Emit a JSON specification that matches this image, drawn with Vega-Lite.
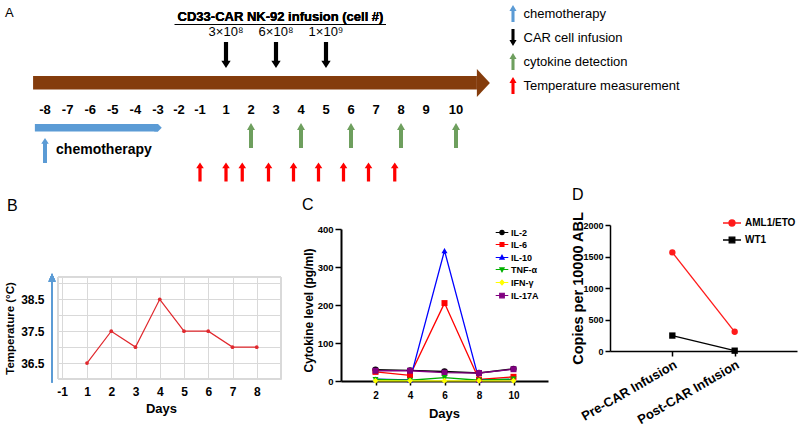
{
"$schema": "https://vega.github.io/schema/vega-lite/v6.json",
"width": 800, "height": 426,
"autosize": {"type": "none"},
"padding": 0,
"background": "white",
"config": {"font": "Liberation Sans", "view": {"stroke": null},
  "axis": {"labelFont": "Liberation Sans", "titleFont": "Liberation Sans", "labelColor": "#000", "titleColor": "#000", "labelFontWeight": "bold", "titleFontWeight": "bold", "labelOverlap": false, "labelFlush": false},
  "legend": {"labelFont": "Liberation Sans", "labelColor": "#000"}},
"datasets": {
  "timeline": [{"start": -8.53, "end": 10.85}],
  "chemo": [{"event": "chemotherapy", "start": -8.45, "end": -3.0, "day": -8}],
  "infusions": [
    {"event": "CAR cell infusion", "day": 1, "dose": "3×10⁸"},
    {"event": "CAR cell infusion", "day": 3, "dose": "6×10⁸"},
    {"event": "CAR cell infusion", "day": 5, "dose": "1×10⁹"}],
  "days": [{"day": -8}, {"day": -7}, {"day": -6}, {"day": -5}, {"day": -4}, {"day": -3}, {"day": -2}, {"day": -1},
    {"day": 1}, {"day": 2}, {"day": 3}, {"day": 4}, {"day": 5}, {"day": 6}, {"day": 7}, {"day": 8}, {"day": 9}, {"day": 10}],
  "cytokineDays": [
    {"event": "cytokine detection", "day": 2}, {"event": "cytokine detection", "day": 4},
    {"event": "cytokine detection", "day": 6}, {"event": "cytokine detection", "day": 8},
    {"event": "cytokine detection", "day": 10}],
  "tempMeasure": [
    {"event": "Temperature measurement", "day": -1}, {"event": "Temperature measurement", "day": 1},
    {"event": "Temperature measurement", "day": 1.65}, {"event": "Temperature measurement", "day": 2.7},
    {"event": "Temperature measurement", "day": 3.7}, {"event": "Temperature measurement", "day": 4.7},
    {"event": "Temperature measurement", "day": 5.7}, {"event": "Temperature measurement", "day": 6.7},
    {"event": "Temperature measurement", "day": 7.75}],
  "temperature": [
    {"day": 1, "temp": 36.5}, {"day": 2, "temp": 37.5}, {"day": 3, "temp": 37.0}, {"day": 4, "temp": 38.5},
    {"day": 5, "temp": 37.5}, {"day": 6, "temp": 37.5}, {"day": 7, "temp": 37.0}, {"day": 8, "temp": 37.0}],
  "cytokines": [
    {"day": 2, "cytokine": "IL-2", "value": 30}, {"day": 4, "cytokine": "IL-2", "value": 28}, {"day": 6, "cytokine": "IL-2", "value": 25}, {"day": 8, "cytokine": "IL-2", "value": 21}, {"day": 10, "cytokine": "IL-2", "value": 32},
    {"day": 2, "cytokine": "IL-6", "value": 24}, {"day": 4, "cytokine": "IL-6", "value": 15}, {"day": 6, "cytokine": "IL-6", "value": 205}, {"day": 8, "cytokine": "IL-6", "value": 4}, {"day": 10, "cytokine": "IL-6", "value": 11},
    {"day": 2, "cytokine": "IL-10", "value": 5}, {"day": 4, "cytokine": "IL-10", "value": 3}, {"day": 6, "cytokine": "IL-10", "value": 343}, {"day": 8, "cytokine": "IL-10", "value": 3}, {"day": 10, "cytokine": "IL-10", "value": 4},
    {"day": 2, "cytokine": "TNF-α", "value": 4}, {"day": 4, "cytokine": "TNF-α", "value": 2}, {"day": 6, "cytokine": "TNF-α", "value": 9}, {"day": 8, "cytokine": "TNF-α", "value": 2}, {"day": 10, "cytokine": "TNF-α", "value": 5},
    {"day": 2, "cytokine": "IFN-γ", "value": 0.5}, {"day": 4, "cytokine": "IFN-γ", "value": 0.5}, {"day": 6, "cytokine": "IFN-γ", "value": 0.5}, {"day": 8, "cytokine": "IFN-γ", "value": 0.5}, {"day": 10, "cytokine": "IFN-γ", "value": 0.5},
    {"day": 2, "cytokine": "IL-17A", "value": 27}, {"day": 4, "cytokine": "IL-17A", "value": 27}, {"day": 6, "cytokine": "IL-17A", "value": 22}, {"day": 8, "cytokine": "IL-17A", "value": 21}, {"day": 10, "cytokine": "IL-17A", "value": 31}],
  "copies": [
    {"time": "Pre-CAR Infusion", "gene": "AML1/ETO", "copies": 1565},
    {"time": "Post-CAR Infusion", "gene": "AML1/ETO", "copies": 305},
    {"time": "Pre-CAR Infusion", "gene": "WT1", "copies": 245},
    {"time": "Post-CAR Infusion", "gene": "WT1", "copies": 5}]
},
"resolve": {"scale": {"x": "independent", "y": "independent", "color": "independent", "shape": "independent"},
  "axis": {"x": "independent", "y": "independent"},
  "legend": {"color": "independent", "shape": "independent"}},
"layer": [
  {
    "layer": [
      {"data": {"name": "timeline"},
       "mark": {"type": "rect", "fill": "#843C0C"},
       "encoding": {
         "x": {"field": "start", "type": "quantitative", "axis": null,
               "scale": {"type": "linear", "domain": [-10, -8, -3, -1, 1, 9, 10, 24], "range": [0, 45, 158, 200, 226, 426, 456, 800], "nice": false, "zero": false}},
         "x2": {"field": "end"},
         "y": {"datum": 76, "type": "quantitative", "axis": null,
               "scale": {"type": "linear", "domain": [0, 426], "range": [0, 426], "nice": false, "zero": false}},
         "y2": {"datum": 89.5}}},
      {"data": {"name": "timeline"},
       "mark": {"type": "point", "shape": "M0,-1L0.93,0L0,1Z", "size": 784, "filled": true, "fill": "#843C0C", "opacity": 1, "strokeWidth": 0},
       "encoding": {"x": {"field": "end", "type": "quantitative", "axis": null}, "y": {"datum": 83, "type": "quantitative", "axis": null}}},
      {"data": {"name": "chemo"},
       "mark": {"type": "rect", "fill": "#5B9BD5"},
       "encoding": {"x": {"field": "start", "type": "quantitative", "axis": null}, "x2": {"field": "end"},
         "y": {"datum": 124, "type": "quantitative", "axis": null}, "y2": {"datum": 131.5}}},
      {"data": {"name": "chemo"},
       "mark": {"type": "point", "shape": "M-1,-1L0,-1L1,0L0,1L-1,1Z", "size": 56, "filled": true, "fill": "#5B9BD5", "opacity": 1, "strokeWidth": 0},
       "encoding": {"x": {"field": "end", "type": "quantitative", "axis": null}, "y": {"datum": 127.75, "type": "quantitative", "axis": null}}},
      {"data": {"name": "chemo"},
       "mark": {"type": "point", "shape": "M-0.16,1H0.16V-0.55H0.3L0,-1L-0.3,-0.55H-0.16Z", "size": 625, "filled": true, "opacity": 1, "strokeWidth": 0},
       "encoding": {"x": {"field": "day", "type": "quantitative", "axis": null}, "y": {"datum": 150.5, "type": "quantitative", "axis": null},
         "color": {"field": "event", "type": "nominal",
           "scale": {"domain": ["chemotherapy", "CAR cell infusion", "cytokine detection", "Temperature measurement"], "range": ["#5B9BD5", "#000000", "#6E9F5E", "#FF0000"]},
           "legend": {"orient": "none", "legendX": 504.5, "legendY": 5, "title": null, "padding": 0, "rowPadding": 7, "labelFontSize": 13, "labelOffset": 2, "labelLimit": 0, "symbolSize": 289, "symbolStrokeWidth": 0, "symbolOpacity": 1,
             "encode": {"symbols": {"update": {"shape": {"signal": "datum.value === 'CAR cell infusion' ? 'M-0.18,-1H0.18V0.3H0.42L0,1L-0.42,0.3H-0.18Z' : 'M-0.18,1H0.18V-0.3H0.42L0,-1L-0.42,-0.3H-0.18Z'"}}}}}}}},
      {"data": {"name": "chemo"},
       "mark": {"type": "text", "text": "chemotherapy", "fontSize": 14, "fontWeight": "bold", "align": "left", "baseline": "middle"},
       "encoding": {"x": {"datum": -7.51, "type": "quantitative", "axis": null}, "y": {"datum": 150, "type": "quantitative", "axis": null}}},
      {"data": {"name": "infusions"},
       "mark": {"type": "point", "shape": "M-0.16,-1H0.16V0.45H0.36L0,1L-0.36,0.45H-0.16Z", "size": 676, "filled": true, "opacity": 1, "strokeWidth": 0},
       "encoding": {"x": {"field": "day", "type": "quantitative", "axis": null}, "y": {"datum": 55, "type": "quantitative", "axis": null},
         "color": {"field": "event", "type": "nominal"}}},
      {"data": {"name": "infusions"},
       "mark": {"type": "text", "fontSize": 13, "align": "center", "baseline": "middle"},
       "encoding": {"x": {"field": "day", "type": "quantitative", "axis": null}, "y": {"datum": 32, "type": "quantitative", "axis": null},
         "text": {"field": "dose", "type": "nominal"}}},
      {"data": {"name": "infusions"},
       "mark": {"type": "text", "text": "CD33-CAR NK-92 infusion (cell #)", "fontSize": 13, "fontWeight": "bold", "align": "center", "baseline": "middle"},
       "encoding": {"x": {"datum": 3.18, "type": "quantitative", "axis": null}, "y": {"datum": 17, "type": "quantitative", "axis": null}}},
      {"data": {"name": "infusions"},
       "mark": {"type": "rule", "stroke": "#000", "strokeWidth": 1},
       "encoding": {"x": {"datum": -2.2, "type": "quantitative", "axis": null}, "x2": {"datum": 7.4}, "y": {"datum": 24.5, "type": "quantitative", "axis": null}}},
      {"data": {"name": "days"},
       "mark": {"type": "text", "fontSize": 13, "fontWeight": "bold", "align": "center", "baseline": "middle"},
       "encoding": {"x": {"field": "day", "type": "quantitative", "axis": null}, "y": {"datum": 110, "type": "quantitative", "axis": null},
         "text": {"field": "day", "type": "nominal"}}},
      {"data": {"name": "cytokineDays"},
       "mark": {"type": "point", "shape": "M-0.16,1H0.16V-0.45H0.32L0,-1L-0.32,-0.45H-0.16Z", "size": 625, "filled": true, "opacity": 1, "strokeWidth": 0},
       "encoding": {"x": {"field": "day", "type": "quantitative", "axis": null}, "y": {"datum": 135.5, "type": "quantitative", "axis": null},
         "color": {"field": "event", "type": "nominal"}}},
      {"data": {"name": "tempMeasure"},
       "mark": {"type": "point", "shape": "M-0.17,1H0.17V-0.4H0.4L0,-1L-0.4,-0.4H-0.17Z", "size": 361, "filled": true, "opacity": 1, "strokeWidth": 0},
       "encoding": {"x": {"field": "day", "type": "quantitative", "axis": null}, "y": {"datum": 172, "type": "quantitative", "axis": null},
         "color": {"field": "event", "type": "nominal"}}},
      {"data": {"name": "timeline"},
       "mark": {"type": "text", "text": "A", "fontSize": 13, "align": "left", "baseline": "middle"},
       "encoding": {"x": {"datum": -9.78, "type": "quantitative", "axis": null}, "y": {"datum": 13, "type": "quantitative", "axis": null}}},
      {"data": {"name": "timeline"},
       "mark": {"type": "text", "text": "B", "fontSize": 16, "align": "left", "baseline": "middle"},
       "encoding": {"x": {"datum": -9.69, "type": "quantitative", "axis": null}, "y": {"datum": 206, "type": "quantitative", "axis": null}}},
      {"data": {"name": "timeline"},
       "mark": {"type": "text", "text": "C", "fontSize": 16, "align": "left", "baseline": "middle"},
       "encoding": {"x": {"datum": 4.04, "type": "quantitative", "axis": null}, "y": {"datum": 205, "type": "quantitative", "axis": null}}},
      {"data": {"name": "timeline"},
       "mark": {"type": "text", "text": "D", "fontSize": 16, "align": "left", "baseline": "middle"},
       "encoding": {"x": {"datum": 14.72, "type": "quantitative", "axis": null}, "y": {"datum": 195, "type": "quantitative", "axis": null}}}
    ]
  },
  {
    "data": {"name": "temperature"},
    "resolve": {"axis": {"x": "independent"}},
    "layer": [
      {"mark": {"type": "rect", "fill": null, "stroke": "#d9d9d9", "strokeWidth": 1},
       "encoding": {
         "x": {"datum": -1.16, "type": "quantitative", "axis": null,
               "scale": {"type": "linear", "domain": [-1.16, -1, 1, 9], "range": [58, 62, 87, 281], "nice": false, "zero": false}},
         "x2": {"datum": 9},
         "y": {"datum": 36, "type": "quantitative",
               "scale": {"type": "linear", "domain": [36, 39.2], "range": [379, 277], "nice": false, "zero": false},
               "axis": {"orient": "left", "offset": -58, "values": [36, 36.5, 37, 37.5, 38, 38.5, 39], "labelExpr": "indexof([36.5, 37.5, 38.5], datum.value) >= 0 ? format(datum.value, '.1f') : ''",
                        "grid": true, "gridColor": "#d9d9d9", "gridWidth": 1, "domain": false, "ticks": false, "labelPadding": 14, "labelFontSize": 12,
                        "title": "Temperature (°C)", "titleFontSize": 11.5, "titleX": -48, "titleY": 328, "titleBaseline": "middle", "titleAngle": -90}},
         "y2": {"datum": 39.2}}},
      {"mark": {"type": "line", "color": "#E0282D", "strokeWidth": 1.2},
       "encoding": {
         "x": {"field": "day", "type": "quantitative",
               "axis": {"orient": "top", "values": [-1, 1, 2, 3, 4, 5, 6, 7, 8, 9], "grid": true, "gridColor": "#d9d9d9", "gridWidth": 1, "labels": false, "ticks": false, "domain": false, "title": null}},
         "y": {"field": "temp", "type": "quantitative"}}},
      {"mark": {"type": "point", "filled": true, "color": "#E0282D", "size": 14, "opacity": 1},
       "encoding": {
         "x": {"field": "day", "type": "quantitative",
               "axis": {"orient": "bottom", "offset": -47, "values": [-1, 1, 2, 3, 4, 5, 6, 7, 8], "labelExpr": "'' + datum.value", "grid": false, "ticks": false, "domain": false, "labelPadding": 7, "labelFontSize": 12,
                        "title": "Days", "titleFontSize": 13, "titleX": 161, "titleY": 29, "titleBaseline": "middle"}},
         "y": {"field": "temp", "type": "quantitative"}}},
      {"mark": {"type": "rule", "stroke": "#5B9BD5", "strokeWidth": 2},
       "encoding": {"x": {"datum": -1.4, "type": "quantitative", "axis": null}, "y": {"datum": 35.9, "type": "quantitative"}, "y2": {"datum": 39.15}}},
      {"mark": {"type": "point", "shape": "M0,-1L0.7,0.6L-0.7,0.6Z", "size": 100, "filled": true, "fill": "#5B9BD5", "opacity": 1, "strokeWidth": 0},
       "encoding": {"x": {"datum": -1.4, "type": "quantitative", "axis": null}, "y": {"datum": 39.15, "type": "quantitative"}}}
    ]
  },
  {
    "data": {"name": "cytokines"},
    "layer": [
      {"mark": {"type": "line", "strokeWidth": 1.3},
       "encoding": {
         "x": {"field": "day", "type": "quantitative",
               "scale": {"domain": [0, 12], "range": [341, 548], "nice": false, "zero": false},
               "axis": {"orient": "bottom", "offset": -45, "values": [2, 4, 6, 8, 10], "format": "d", "domainColor": "#000", "domainWidth": 2, "tickColor": "#000", "tickWidth": 1.5, "tickSize": 4, "labelPadding": 5, "labelFontSize": 10, "grid": false,
                        "title": "Days", "titleFontSize": 13, "titleX": 444, "titleY": 32, "titleBaseline": "middle"}},
         "y": {"field": "value", "type": "quantitative",
               "scale": {"domain": [0, 400], "range": [381, 229], "nice": false, "zero": false},
               "axis": {"orient": "left", "offset": -341, "values": [0, 100, 200, 300, 400], "format": "d", "domainColor": "#000", "domainWidth": 2, "tickColor": "#000", "tickWidth": 1.5, "tickSize": 6, "labelPadding": 2, "labelFontSize": 9.5, "grid": false,
                        "title": "Cytokine level (pg/ml)", "titleFontSize": 12, "titleX": -33, "titleY": 310, "titleBaseline": "middle", "titleAngle": -90}},
         "color": {"field": "cytokine", "type": "nominal",
                   "scale": {"domain": ["IL-2", "IL-6", "IL-10", "TNF-α", "IFN-γ", "IL-17A"], "range": ["#000000", "#FF0000", "#0000FF", "#00B000", "#FFFF00", "#800080"]},
                   "legend": {"orient": "none", "legendX": 497.5, "legendY": 228, "title": null, "padding": 0, "rowPadding": 2, "labelFontSize": 9, "labelFontWeight": "bold", "labelOffset": 4.5, "symbolSize": 49, "symbolOpacity": 1, "symbolStrokeWidth": 1.2,
                     "encode": {"symbols": {"update": {
                       "shape": {"signal": "['M-1.8,0H1.8M0.6,0A0.6,0.6,0,1,1,-0.6,0A0.6,0.6,0,1,1,0.6,0Z','M-1.8,0H1.8M-0.55,-0.55H0.55V0.55H-0.55Z','M-1.8,0H1.8M0,-0.65L0.6,0.45H-0.6Z','M-1.8,0H1.8M0,0.65L0.6,-0.45H-0.6Z','M-1.8,0H1.8M0,-0.7L0.6,0L0,0.7L-0.6,0Z','M-1.8,0H1.8M-0.65,-0.65H0.65V0.65H-0.65Z'][indexof(['IL-2','IL-6','IL-10','TNF-α','IFN-γ','IL-17A'], datum.value)]"},
                       "size": {"value": 49},
                       "strokeWidth": {"value": 1.2}}}}}}}},
      {"transform": [{"filter": "datum.cytokine === 'IL-2'"}],
       "mark": {"type": "point", "shape": "circle", "filled": true, "size": 40, "opacity": 1, "strokeWidth": 0},
       "encoding": {"x": {"field": "day", "type": "quantitative"}, "y": {"field": "value", "type": "quantitative"}, "color": {"field": "cytokine", "type": "nominal"}}},
      {"transform": [{"filter": "datum.cytokine === 'IL-6' || datum.cytokine === 'IL-17A'"}],
       "mark": {"type": "point", "shape": "square", "filled": true, "size": 36, "opacity": 1, "strokeWidth": 0},
       "encoding": {"x": {"field": "day", "type": "quantitative"}, "y": {"field": "value", "type": "quantitative"}, "color": {"field": "cytokine", "type": "nominal"}}},
      {"transform": [{"filter": "datum.cytokine === 'IL-10'"}],
       "mark": {"type": "point", "shape": "triangle-up", "filled": true, "size": 36, "opacity": 1, "strokeWidth": 0},
       "encoding": {"x": {"field": "day", "type": "quantitative"}, "y": {"field": "value", "type": "quantitative"}, "color": {"field": "cytokine", "type": "nominal"}}},
      {"transform": [{"filter": "datum.cytokine === 'TNF-α'"}],
       "mark": {"type": "point", "shape": "triangle-down", "filled": true, "size": 36, "opacity": 1, "strokeWidth": 0},
       "encoding": {"x": {"field": "day", "type": "quantitative"}, "y": {"field": "value", "type": "quantitative"}, "color": {"field": "cytokine", "type": "nominal"}}},
      {"transform": [{"filter": "datum.cytokine === 'IFN-γ'"}],
       "mark": {"type": "point", "shape": "diamond", "filled": true, "size": 36, "opacity": 1, "strokeWidth": 0},
       "encoding": {"x": {"field": "day", "type": "quantitative"}, "y": {"field": "value", "type": "quantitative"}, "color": {"field": "cytokine", "type": "nominal"}}}
    ]
  },
  {
    "data": {"name": "copies"},
    "layer": [
      {"mark": {"type": "line", "strokeWidth": 1.3},
       "encoding": {
         "x": {"field": "time", "type": "nominal", "sort": ["Pre-CAR Infusion", "Post-CAR Infusion"],
               "scale": {"type": "point", "domain": ["Pre-CAR Infusion", "Post-CAR Infusion"], "range": [610, 797], "padding": 1},
               "axis": {"orient": "bottom", "offset": -75, "domainColor": "#000", "domainWidth": 1.5, "tickColor": "#000", "tickWidth": 1.5, "tickSize": 5, "labelAngle": -30, "labelAlign": "right", "labelBaseline": "top", "labelPadding": 2, "labelFontSize": 13, "labelLimit": 0, "title": null, "grid": false}},
         "y": {"field": "copies", "type": "quantitative",
               "scale": {"domain": [0, 2000], "range": [351, 225], "nice": false, "zero": false},
               "axis": {"orient": "left", "offset": -610, "values": [0, 500, 1000, 1500, 2000], "format": "d", "domainColor": "#000", "domainWidth": 1.5, "tickColor": "#000", "tickWidth": 1.5, "tickSize": 5, "labelPadding": 2, "labelFontSize": 9, "grid": false,
                        "title": "Copies per 10000 ABL", "titleFontSize": 14.5, "titleX": -32, "titleY": 288, "titleBaseline": "middle", "titleAngle": -90}},
         "color": {"field": "gene", "type": "nominal",
                   "scale": {"domain": ["AML1/ETO", "WT1"], "range": ["#FF1A1A", "#000000"]},
                   "legend": {"orient": "none", "legendX": 727, "legendY": 218, "title": null, "padding": 0, "rowPadding": 5, "labelFontSize": 10, "labelFontWeight": "bold", "labelOffset": 8, "symbolSize": 64, "symbolOpacity": 1, "symbolStrokeWidth": 1.3,
                     "encode": {"symbols": {"update": {
                       "shape": {"signal": "datum.value === 'WT1' ? 'M-2.25,0H2.25M-0.7,-0.7H0.7V0.7H-0.7Z' : 'M-2.25,0H2.25M0.75,0A0.75,0.75,0,1,1,-0.75,0A0.75,0.75,0,1,1,0.75,0Z'"},
                       "size": {"value": 64},
                       "strokeWidth": {"value": 1.3}}}}}}}},
      {"transform": [{"filter": "datum.gene === 'AML1/ETO'"}],
       "mark": {"type": "point", "shape": "circle", "filled": true, "size": 40, "opacity": 1, "strokeWidth": 0},
       "encoding": {"x": {"field": "time", "type": "nominal"}, "y": {"field": "copies", "type": "quantitative"}, "color": {"field": "gene", "type": "nominal"}}},
      {"transform": [{"filter": "datum.gene === 'WT1'"}],
       "mark": {"type": "point", "shape": "square", "filled": true, "size": 40, "opacity": 1, "strokeWidth": 0},
       "encoding": {"x": {"field": "time", "type": "nominal"}, "y": {"field": "copies", "type": "quantitative"}, "color": {"field": "gene", "type": "nominal"}}}
    ]
  }
]
}
